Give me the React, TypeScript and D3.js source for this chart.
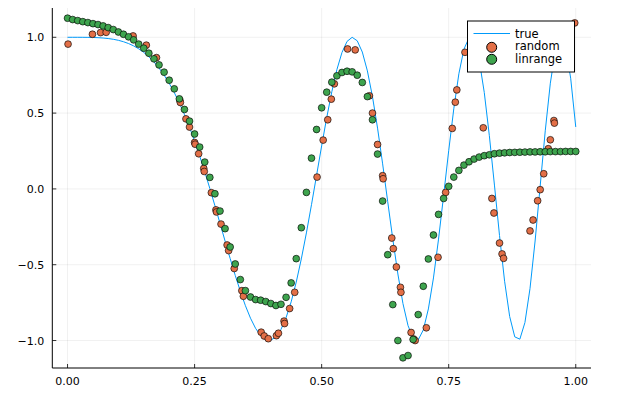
import React from "react";
import * as d3 from "d3";

// true curve sampled at 0, 0.01, ..., 1.00
const trueX: number[] = Array.from({ length: 101 }, (_, i) => i / 100);
const trueY: number[] = [
  1.0, 1.0, 1.0, 0.9998, 0.9995, 0.9988, 0.9974, 0.9952, 0.9918, 0.9869,
  0.9801, 0.9709, 0.9588, 0.9434, 0.9241, 0.9004, 0.8718, 0.8376, 0.7973, 0.7504,
  0.6967, 0.6356, 0.5669, 0.4906, 0.4067, 0.3153, 0.2171, 0.1126, 0.0028, -0.111,
  -0.2272, -0.344, -0.4593, -0.5706, -0.6751, -0.7702, -0.8528, -0.9196, -0.968, -0.995,
  -0.9983, -0.9758, -0.9263, -0.8492, -0.7449, -0.6148, -0.4617, -0.2902, -0.1042, 0.0895,
  0.2837, 0.4703, 0.6408, 0.7869, 0.8999, 0.9729, 0.9999, 0.977, 0.9027, 0.7783,
  0.6084, 0.401, 0.1652, -0.0839, -0.3316, -0.5613, -0.7565, -0.9018, -0.9844, -0.9953,
  -0.9304, -0.7917, -0.5872, -0.3312, -0.0436, 0.2517, 0.5282, 0.7594, 0.9217, 0.9964,
  0.9728, 0.8496, 0.636, 0.351, 0.0252, -0.3077, -0.609, -0.8419, -0.9759, -0.991,
  -0.8814, -0.657, -0.3436, 0.0192, 0.3832, 0.6973, 0.9141, 0.9995, 0.9365, 0.73,
  0.4085,
];

// "random" series
const randomX: number[] = [
  0.001, 0.049, 0.065, 0.076, 0.129, 0.155, 0.175, 0.221, 0.222, 0.233,
  0.24, 0.25, 0.251, 0.258, 0.268, 0.269, 0.283, 0.292, 0.293, 0.302,
  0.314, 0.317, 0.328, 0.343, 0.346, 0.381, 0.387, 0.395, 0.411, 0.415,
  0.426, 0.427, 0.437, 0.447, 0.491, 0.503, 0.512, 0.519, 0.525, 0.551,
  0.566, 0.594, 0.6, 0.61, 0.62, 0.621, 0.638, 0.641, 0.647, 0.655,
  0.656, 0.676, 0.681, 0.684, 0.706, 0.729, 0.744, 0.757, 0.763, 0.766,
  0.782, 0.818, 0.835, 0.839, 0.85, 0.855, 0.858, 0.91, 0.916, 0.925,
  0.93, 0.937, 0.946, 0.95, 0.957, 0.958, 0.998,
];
const randomY: number[] = [
  0.955, 1.02, 1.031, 1.033, 1.009, 0.948, 0.866, 0.585, 0.57, 0.462,
  0.408, 0.306, 0.295, 0.232, 0.135, 0.115, -0.025, -0.138, -0.152, -0.232,
  -0.37, -0.407, -0.525, -0.671, -0.708, -0.945, -0.97, -0.988, -0.968, -0.952,
  -0.872, -0.888, -0.789, -0.682, 0.078, 0.322, 0.456, 0.592, 0.693, 0.923,
  0.917, 0.614, 0.5, 0.293, 0.087, 0.067, -0.324, -0.394, -0.515, -0.649,
  -0.682, -0.947, -0.99, -1.0, -0.916, -0.451, -0.023, 0.399, 0.572, 0.653,
  0.901, 0.403, -0.063, -0.159, -0.357, -0.429, -0.458, -0.277, -0.205, -0.078,
  -0.005, 0.1, 0.265, 0.324, 0.451, 0.434, 1.095,
];

// "linrange" series at 0, 0.01, ..., 1.00
const linX: number[] = Array.from({ length: 101 }, (_, i) => i / 100);
const linY: number[] = [
  1.126, 1.117, 1.11, 1.103, 1.097, 1.09, 1.084, 1.075, 1.064, 1.051,
  1.035, 1.02, 1.003, 0.983, 0.955, 0.928, 0.895, 0.858, 0.818, 0.77,
  0.717, 0.66, 0.594, 0.524, 0.447, 0.362, 0.276, 0.177, 0.076, -0.032,
  -0.146, -0.262, -0.383, -0.495, -0.598, -0.671, -0.713, -0.73, -0.734, -0.743,
  -0.756, -0.769, -0.761, -0.715, -0.62, -0.46, -0.256, -0.023, 0.203, 0.392,
  0.535, 0.638, 0.704, 0.746, 0.768, 0.776, 0.772, 0.75, 0.702, 0.609,
  0.456, 0.23, -0.08, -0.434, -0.763, -1.0, -1.114, -1.099, -0.993, -0.829,
  -0.642, -0.462, -0.304, -0.168, -0.063, 0.017, 0.078, 0.122, 0.157, 0.179,
  0.197, 0.21, 0.219, 0.225, 0.232, 0.236, 0.238, 0.24, 0.241, 0.242,
  0.243, 0.244, 0.244, 0.245, 0.245, 0.246, 0.246, 0.246, 0.247, 0.247,
  0.247,
];

const xTicks: number[] = [0, 0.25, 0.5, 0.75, 1.0];
const xTickLabels: string[] = ["0.00", "0.25", "0.50", "0.75", "1.00"];
const yTicks: number[] = [-1.0, -0.5, 0.0, 0.5, 1.0];
const yTickLabels: string[] = ["\u22121.0", "\u22120.5", "0.0", "0.5", "1.0"];
const seriesNames: string[] = ["true", "random", "linrange"];

const W = 639;
const H = 398;
const FONT = "'DejaVu Sans', sans-serif";
const C_TRUE = "#009AFA";
const C_RAND = "#E36F47";
const C_LIN = "#3EA44E";

export default function App() {
  const left = 52.3;
  const right = 591;
  const top = 8;
  const bottom = 368;

  const allY = [...trueY, ...randomY, ...linY];
  const [ymin, ymax] = d3.extent(allY) as [number, number];
  const padY = (ymax - ymin) * 0.03;
  const x = d3.scaleLinear().domain([-0.03, 1.03]).range([left, right]);
  const y = d3.scaleLinear().domain([ymin - padY, ymax + padY]).range([bottom, top]);

  const line = d3
    .line<number>()
    .x((_, i) => x(trueX[i]))
    .y((d) => y(d));

  const r = 3.4;

  return (
    <svg
      width={W}
      height={H}
      style={{ position: "absolute", left: 0, top: 0, background: "#fff" }}
      fontFamily={FONT}
    >
      <rect x={0} y={0} width={W} height={H} fill="#fff" />
      {/* grid */}
      {xTicks.map((t) => (
        <line key={"gx" + t} x1={x(t)} x2={x(t)} y1={top} y2={bottom} stroke="#000" strokeOpacity={0.1} strokeWidth={0.6} />
      ))}
      {yTicks.map((t) => (
        <line key={"gy" + t} x1={left} x2={right} y1={y(t)} y2={y(t)} stroke="#000" strokeOpacity={0.1} strokeWidth={0.6} />
      ))}
      {/* axes */}
      <line x1={left} x2={left} y1={top} y2={bottom} stroke="#000" strokeWidth={1} />
      <line x1={left} x2={right} y1={bottom} y2={bottom} stroke="#000" strokeWidth={1} />
      {xTicks.map((t, i) => (
        <g key={"xt" + t}>
          <line x1={x(t)} x2={x(t)} y1={bottom} y2={bottom - 4} stroke="#000" strokeWidth={0.8} />
          <text x={x(t)} y={bottom + 17} fontSize={11} textAnchor="middle" fill="#000">
            {xTickLabels[i]}
          </text>
        </g>
      ))}
      {yTicks.map((t, i) => (
        <g key={"yt" + t}>
          <line x1={left} x2={left + 4} y1={y(t)} y2={y(t)} stroke="#000" strokeWidth={0.8} />
          <text x={left - 8} y={y(t) + 4} fontSize={11} textAnchor="end" fill="#000">
            {yTickLabels[i]}
          </text>
        </g>
      ))}
      {/* true line */}
      <path d={line(trueY) || ""} fill="none" stroke={C_TRUE} strokeWidth={1} />
      {/* random */}
      {randomX.map((xv, i) => (
        <circle key={"r" + i} cx={x(xv)} cy={y(randomY[i])} r={r} fill={C_RAND} stroke="#000" strokeOpacity={0.8} strokeWidth={0.8} />
      ))}
      {/* linrange */}
      {linX.map((xv, i) => (
        <circle key={"l" + i} cx={x(xv)} cy={y(linY[i])} r={r} fill={C_LIN} stroke="#000" strokeOpacity={0.8} strokeWidth={0.8} />
      ))}
      {/* legend */}
      <g>
        <rect x={467.5} y={21} width={107} height={51} fill="#fff" stroke="#000" strokeWidth={1} />
        <line x1={473.5} x2={510} y1={33.5} y2={33.5} stroke={C_TRUE} strokeWidth={1} />
        <circle cx={491.7} cy={47.3} r={5} fill={C_RAND} stroke="#000" strokeWidth={1} />
        <circle cx={491.7} cy={59.3} r={5} fill={C_LIN} stroke="#000" strokeWidth={1} />
        {seriesNames.map((s, i) => (
          <text key={s} x={515} y={37.5 + i * 12.5} fontSize={11.5} fill="#000">
            {s}
          </text>
        ))}
      </g>
    </svg>
  );
}
